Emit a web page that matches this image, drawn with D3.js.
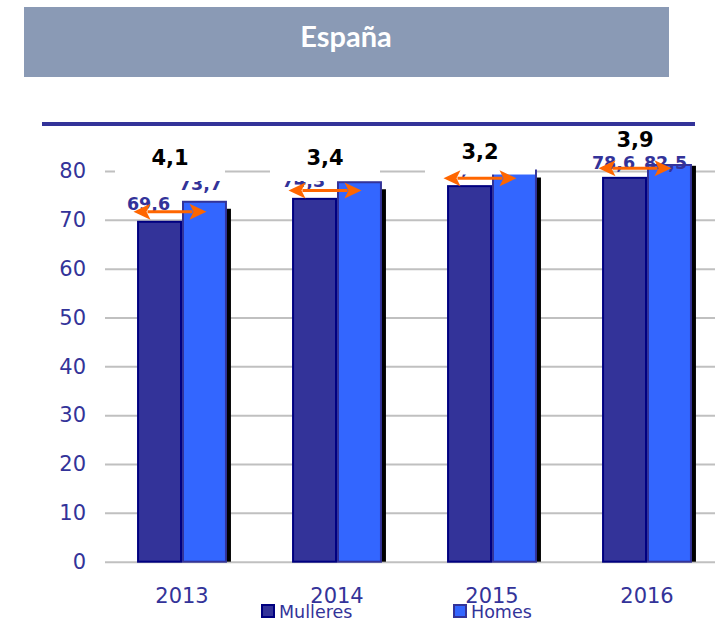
<!DOCTYPE html>
<html>
<head>
<meta charset="utf-8">
<script src="https://cdn.jsdelivr.net/npm/d3@7"></script>
<style>
  body { margin: 0; background: #fff; }
  text { font-family: "DejaVu Sans", Verdana, sans-serif; }
</style>
</head>
<body>
<script>
/* DATA */
const years = ["2013", "2014", "2015", "2016"];
const series = ["Mulleres", "Homes"];
const mulleres = [69.6, 74.3, 76.9, 78.6];
const homes = [73.7, 77.7, 80.1, 82.5];
const yTicks = [0, 10, 20, 30, 40, 50, 60, 70, 80];
const title = "España";

/* CONSTANTS AND GLOBALS */
const width = 715;
const height = 626;
const margin = { top: 171, bottom: 64.3, left: 105, right: 0 };
const fills = { Mulleres: "#333399", Homes: "#3366FF" };
const strokes = { Mulleres: "#000080", Homes: "#333399" };
const labelShift = { Mulleres: -11, Homes: -4 };
const dark = "#333399";
const orange = "#FF6600";

const data = years.map((yr, i) => ({ year: yr, Mulleres: mulleres[i], Homes: homes[i] }));

const svg = d3.select("body").append("svg")
    .attr("width", width)
    .attr("height", height);

// TITLE BOX
svg.append("rect")
    .attr("x", 24).attr("y", 7)
    .attr("width", 645).attr("height", 70)
    .attr("fill", "#8A9AB5");

svg.append("text")
    .attr("x", 346).attr("y", 47)
    .attr("text-anchor", "middle")
    .style("font-family", "Lato, 'Open Sans', sans-serif")
    .attr("font-weight", "bold")
    .attr("font-size", 29)
    .attr("fill", "#fff")
    .text(title);

// SCALES
const x = d3.scaleBand()
    .domain(years)
    .range([margin.left - 0.5, margin.left + 619.5])
    .paddingInner(0.42)
    .paddingOuter(0.21);

const xs = d3.scaleBand()
    .domain(series)
    .range([0, x.bandwidth()]);

const y = d3.scaleLinear()
    .domain([0, 80])
    .range([height - margin.bottom, margin.top]);

const yMax = y.domain()[1];
const plotTop = y(yMax) - 6; // bars are cut a little above the 80 line

// GRID + Y LABELS
const yAxis = svg.append("g")
    .attr("transform", "translate(" + margin.left + ",0)")
    .call(d3.axisLeft(y).tickValues(yTicks).tickSize(-(width - margin.left)).tickPadding(19));
yAxis.select(".domain").remove();
yAxis.selectAll("line").attr("stroke", "#C0C0C0").attr("stroke-width", 2);
yAxis.selectAll("text")
    .attr("fill", dark)
    .attr("font-size", 21)
    .style("font-family", "'DejaVu Sans', sans-serif");

// X LABELS
const xAxis = svg.append("g")
    .attr("transform", "translate(0," + y(0) + ")")
    .call(d3.axisBottom(x).tickSize(0).tickPadding(26));
xAxis.select(".domain").remove();
xAxis.selectAll("text")
    .attr("fill", dark)
    .attr("font-size", 21)
    .style("font-family", "'DejaVu Sans', sans-serif");

// BARS
const groups = svg.selectAll(".grp")
    .data(data)
    .enter()
    .append("g")
    .attr("class", "grp")
    .attr("transform", d => "translate(" + x(d.year) + ",0)");

const topOf = v => Math.max(y(v), plotTop);

// black shadow right of the Homes bar
groups.append("rect")
    .attr("x", x.bandwidth() - 1)
    .attr("y", d => Math.max(y(d.Homes) + 7, plotTop))
    .attr("width", 5)
    .attr("height", d => y(0) - Math.max(y(d.Homes) + 7, plotTop))
    .attr("fill", "#000");

groups.selectAll(".bar")
    .data(d => series.map(s => ({ key: s, value: d[s] })))
    .enter()
    .append("rect")
    .attr("class", "bar")
    .attr("x", d => xs(d.key) + 1)
    .attr("y", d => topOf(d.value))
    .attr("width", xs.bandwidth() - 2)
    .attr("height", d => y(0) - topOf(d.value))
    .attr("fill", d => fills[d.key])
    .attr("stroke", d => strokes[d.key])
    .attr("stroke-width", 2);

// VALUE LABELS (clamped inside the plot top)
groups.selectAll(".val-label")
    .data(d => series.map(s => ({ key: s, value: d[s] })))
    .enter()
    .append("text")
    .attr("class", "val-label")
    .attr("x", d => xs(d.key) + xs.bandwidth() / 2 + labelShift[d.key])
    .attr("y", d => Math.max(y(d.value) - 12, y(yMax) - 2))
    .attr("text-anchor", "middle")
    .attr("font-weight", "bold")
    .attr("font-size", 17.5)
    .attr("fill", dark)
    .text(d => d.value.toFixed(1).replace(".", ","));

// DIFFERENCE LABELS WITH WHITE BACKING
const fmtDiff = d => (d.Homes - d.Mulleres).toFixed(1).replace(".", ",");
const arrowX = x.bandwidth() / 2 - 12;
const diffY = d => Math.min(y(d.Homes) - 12, y(yMax) - 6);
// backing stops short when the bar is cut at the plot top, so its labels stay visible
const boxBottom = d => diffY(d) + (y(d.Homes) < plotTop ? 6 : 16);

groups.append("rect")
    .attr("x", arrowX - 55)
    .attr("y", d => diffY(d) - 24)
    .attr("width", 110)
    .attr("height", d => boxBottom(d) - diffY(d) + 24)
    .attr("fill", "#fff");

groups.append("text")
    .attr("x", arrowX)
    .attr("y", diffY)
    .attr("text-anchor", "middle")
    .attr("font-weight", "bold")
    .attr("font-size", 21)
    .attr("fill", "#000")
    .text(fmtDiff);

// ORANGE DOUBLE ARROWS
const half = 36.5, head = 17, hh = 8;
const arrow = groups.append("g")
    .attr("transform", d => "translate(" + arrowX + "," + (y(d.Mulleres) + y(d.Homes)) / 2 + ")");
arrow.append("line")
    .attr("x1", -half + head - 3).attr("x2", half - head + 3)
    .attr("stroke", orange).attr("stroke-width", 3);
arrow.append("path")
    .attr("d", "M" + (-half) + ",0L" + (-half + head) + "," + (-hh) + "L" + (-half + head - 4) + ",0L" + (-half + head) + "," + hh + "Z")
    .attr("fill", orange);
arrow.append("path")
    .attr("d", "M" + half + ",0L" + (half - head) + "," + (-hh) + "L" + (half - head + 4) + ",0L" + (half - head) + "," + hh + "Z")
    .attr("fill", orange);

// top rule
svg.append("rect")
    .attr("x", 42).attr("y", 122)
    .attr("width", 653).attr("height", 4)
    .attr("fill", dark);

// LEGEND
const legend = svg.selectAll(".legend")
    .data(series)
    .enter()
    .append("g")
    .attr("class", "legend")
    .attr("transform", (d, i) => "translate(" + (262 + i * 192) + ",605)");
legend.append("rect")
    .attr("width", 12).attr("height", 12)
    .attr("fill", d => fills[d])
    .attr("stroke", d => strokes[d])
    .attr("stroke-width", 2);
legend.append("text")
    .attr("x", 17).attr("y", 13)
    .attr("font-size", 17.5)
    .attr("fill", dark)
    .text(d => d);
</script>
</body>
</html>
